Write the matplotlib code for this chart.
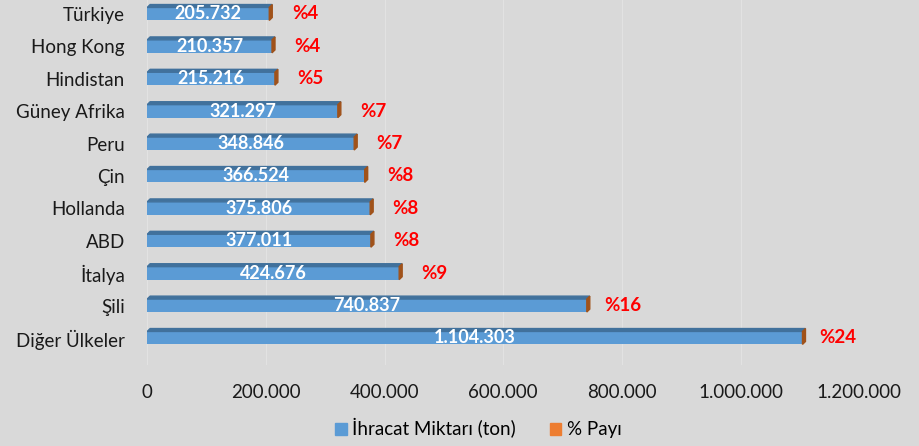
import matplotlib.pyplot as plt
from matplotlib.patches import Polygon
from matplotlib.ticker import FuncFormatter

countries = ['Diğer Ülkeler', 'Şili', 'İtalya', 'ABD', 'Hollanda', 'Çin',
             'Peru', 'Güney Afrika', 'Hindistan', 'Hong Kong', 'Türkiye']
export_tons = [1104303, 740837, 424676, 377011, 375806, 366524,
               348846, 321297, 215216, 210357, 205732]
share_pct = [24, 16, 9, 8, 8, 8, 7, 7, 5, 4, 4]
x_ticks = [0, 200000, 400000, 600000, 800000, 1000000, 1200000]


def dotted(v):
    return f"{int(v):,}".replace(",", ".")


plt.rcParams['font.family'] = ['Lato', 'DejaVu Sans']
bg = '#d9d9d9'
front = '#5b9bd5'
top = '#41719c'
side = '#a0521a'

fig = plt.figure(figsize=(9.2, 4.46), dpi=100, facecolor=bg)
ax = fig.add_axes([0.16, 0.182, 0.774, 0.818], facecolor=bg)

h = 0.4
dx = 5000
dy = 0.09
ypos = list(range(len(countries)))

for x in x_ticks:
    ax.axvline(x, color='#e2e2e2', lw=0.8, zorder=0)

ax.barh(ypos, export_tons, height=h, color=front, zorder=2)
for y, v in zip(ypos, export_tons):
    yt = y + h / 2
    ax.add_patch(Polygon([(0, yt), (v, yt), (v + dx, yt + dy), (dx, yt + dy)],
                         closed=True, color=top, zorder=2))
    ax.add_patch(Polygon([(v, y - h / 2), (v, yt), (v + dx, yt + dy), (v + dx, y - h / 2 + dy)],
                         closed=True, color=side, zorder=2))
    ax.text(v / 2, y, dotted(v), color='white', fontsize=13, fontweight='bold',
            ha='center', va='center', zorder=3)

for y, v, p in zip(ypos, export_tons, share_pct):
    ax.text(v + 60000, y, f"%{p}", color='#ff0000', fontsize=13.5, fontweight='bold',
            ha='center', va='center', zorder=3)

ax.set_xlim(0, 1200000)
ax.set_ylim(-0.83, 10.43)
ax.set_xticks(x_ticks)
ax.xaxis.set_major_formatter(FuncFormatter(lambda v, _: dotted(v)))
ax.set_yticks(ypos)
ax.set_yticklabels(countries)
ax.tick_params(axis='x', labelsize=13.5, length=0, pad=14, colors='#1a1a1a')
ax.tick_params(axis='y', labelsize=13.5, length=0, pad=16, colors='#1a1a1a')
for s in ax.spines.values():
    s.set_visible(False)

h1 = plt.Rectangle((0, 0), 1, 1, color=front)
h2 = plt.Rectangle((0, 0), 1, 1, color='#ed7d31')
fig.legend([h1, h2], ['İhracat Miktarı (ton)', '% Payı'], loc='center',
           bbox_to_anchor=(0.52, 0.04), ncol=2, frameon=False, fontsize=13.5,
           handlelength=0.6, handleheight=0.6, handletextpad=0.3, columnspacing=1.8)

fig.savefig('out.png', dpi=100, facecolor=bg)
